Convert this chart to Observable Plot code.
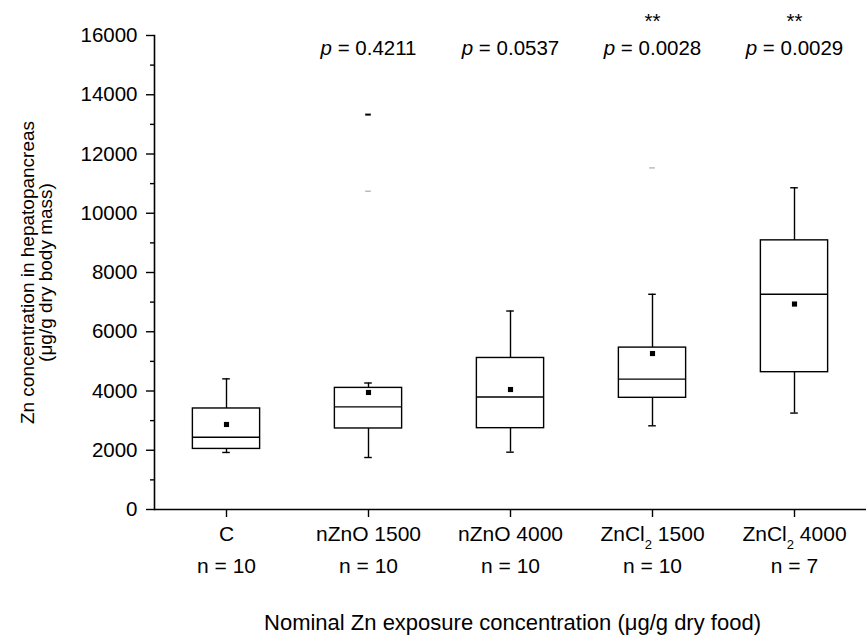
<!DOCTYPE html>
<html><head><meta charset="utf-8">
<script src="https://cdn.jsdelivr.net/npm/d3@7"></script>
<script src="https://cdn.jsdelivr.net/npm/@observablehq/plot@0.6"></script>
<style>body{margin:0;background:#fff} svg{display:block}</style>
</head><body><div id="chart"></div>
<script>
// ---- data ----
const categories = ["C", "nZnO 1500", "nZnO 4000", "ZnCl2 1500", "ZnCl2 4000"];
const nLabels = ["n = 10", "n = 10", "n = 10", "n = 10", "n = 7"];
const pLabels = ["", "p = 0.4211", "p = 0.0537", "p = 0.0028", "p = 0.0029"];
const stars = ["", "", "", "**", "**"];
const whiskerLow = [1925, 1755, 1935, 2825, 3255];
const q1 = [2045, 2735, 2745, 3770, 4635];
const median = [2440, 3465, 3800, 4400, 7265];
const q3 = [3410, 4105, 5115, 5465, 9085];
const whiskerHigh = [4410, 4270, 6700, 7265, 10860];
const mean = [2870, 3950, 4050, 5265, 6935];
const maxCats = ["nZnO 1500"];
const maxVals = [13330];
const pctCats = ["nZnO 1500", "ZnCl2 1500"];
const pctVals = [10745, 11530];
const yMajor = [0, 2000, 4000, 6000, 8000, 10000, 12000, 14000, 16000];
const yMinor = [1000, 3000, 5000, 7000, 9000, 11000, 13000, 15000];
const xTitle = "Nominal Zn exposure concentration (μg/g dry food)";
const yTitle1 = "Zn concentration in hepatopancreas";
const yTitle2 = "(μg/g dry body mass)";

const rows = categories.map((c, i) => ({
  c, lo: whiskerLow[i], q1: q1[i], med: median[i], q3: q3[i], hi: whiskerHigh[i],
  mean: mean[i], n: nLabels[i], p: pLabels[i], star: stars[i]
}));
const maxRows = maxCats.map((c, i) => ({c, v: maxVals[i]}));
const pctRows = pctCats.map((c, i) => ({c, v: pctVals[i]}));

const width = 867, height = 641, mL = 154, mR = 1, mT = 35, mB = 132;
const bw = (width - mL - mR) / categories.length;
const boxInset = bw * (1 - 0.475) / 2;
const capInset = (bw - 8) / 2;
const dashInset = (bw - 6) / 2;
const sw = 1.4;

const chart = Plot.plot({
  width, height, marginLeft: mL, marginRight: mR, marginTop: mT, marginBottom: mB,
  style: {fontFamily: '"Liberation Sans", Arial, sans-serif', fontSize: "20px", color: "black", background: "white"},
  x: {domain: categories, padding: 0, label: null, axis: null},
  y: {domain: [0, 16000], label: null, axis: null},
  marks: [
    Plot.frame({anchor: "left", strokeWidth: 1.6}),
    Plot.ruleY([0], {strokeWidth: 1.6}),
    Plot.axisY({ticks: yMajor, tickSize: 8, tickPadding: 9, tickFormat: d => String(d), fontSize: 20.5, strokeWidth: sw}),
    Plot.axisY({ticks: yMinor, tickSize: 4, tickFormat: () => "", strokeWidth: sw}),
    Plot.axisX({tickSize: 8, tickFormat: () => "", strokeWidth: sw}),
    // whiskers
    Plot.ruleX(rows, {x: "c", y1: "lo", y2: "q1", strokeWidth: sw}),
    Plot.ruleX(rows, {x: "c", y1: "q3", y2: "hi", strokeWidth: sw}),
    Plot.tickY(rows, {x: "c", y: "lo", insetLeft: capInset, insetRight: capInset, strokeWidth: sw}),
    Plot.tickY(rows, {x: "c", y: "hi", insetLeft: capInset, insetRight: capInset, strokeWidth: sw}),
    // boxes
    Plot.barY(rows, {x: "c", y1: "q1", y2: "q3", fill: "white", stroke: "black", strokeWidth: sw, insetLeft: boxInset, insetRight: boxInset}),
    Plot.tickY(rows, {x: "c", y: "med", insetLeft: boxInset, insetRight: boxInset, strokeWidth: sw}),
    Plot.dot(rows, {x: "c", y: "mean", symbol: "square", r: 2.9, fill: "black", stroke: null}),
    // extremes
    Plot.tickY(maxRows, {x: "c", y: "v", insetLeft: dashInset, insetRight: dashInset, strokeWidth: 2}),
    Plot.tickY(pctRows, {x: "c", y: "v", insetLeft: dashInset, insetRight: dashInset, strokeWidth: 1, stroke: "#999"}),
    // x labels
    Plot.text(rows, {x: "c", text: "c", frameAnchor: "bottom", lineAnchor: "bottom", dy: 31, fontSize: 21}),
    Plot.text(rows, {x: "c", text: "n", frameAnchor: "bottom", lineAnchor: "bottom", dy: 63.7, fontSize: 21}),
    Plot.text([xTitle], {text: d => d, frameAnchor: "bottom", lineAnchor: "bottom", dy: 120, dx: 2, fontSize: 22}),
    // annotations
    Plot.text(rows, {x: "c", text: "p", frameAnchor: "top", lineAnchor: "bottom", dy: 19, fontSize: 20.5}),
    Plot.text(rows, {x: "c", text: "star", frameAnchor: "top", lineAnchor: "bottom", dy: -7.6, fontSize: 20.5}),
    // y title
    Plot.text([yTitle1], {text: d => d, frameAnchor: "left", textAnchor: "middle", rotate: -90, lineAnchor: "middle", dx: -127, fontSize: 19}),
    Plot.text([yTitle2], {text: d => d, frameAnchor: "left", textAnchor: "middle", rotate: -90, lineAnchor: "middle", dx: -108.4, fontSize: 19})
  ]
});

d3.select(chart).selectAll("text").each(function() {
  const t = this.textContent;
  if (/^p = /.test(t)) {
    d3.select(this).html('<tspan font-style="italic">p</tspan>' + t.slice(1));
  } else if (/^ZnCl2/.test(t)) {
    d3.select(this).html('ZnCl<tspan dy="8" font-size="13">2</tspan><tspan dy="-8">' + t.slice(5) + '</tspan>');
  }
});

document.getElementById("chart").appendChild(chart);
</script>
</body></html>
